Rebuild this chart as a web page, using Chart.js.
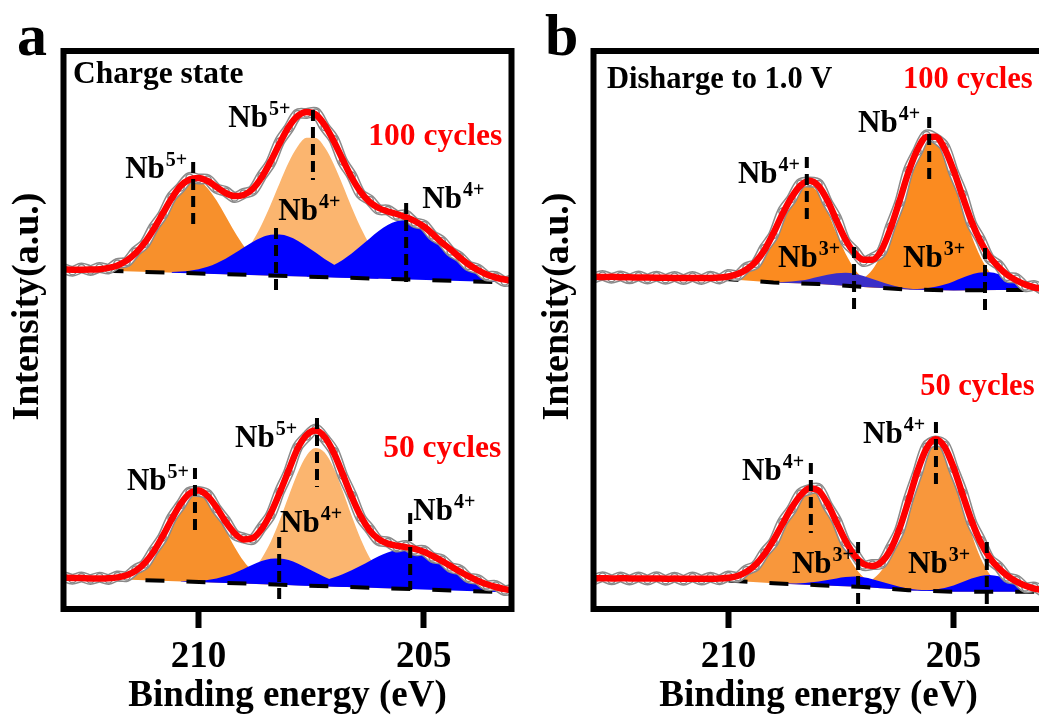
<!DOCTYPE html>
<html>
<head>
<meta charset="utf-8">
<script src="https://cdn.jsdelivr.net/npm/chart.js@4/dist/chart.umd.min.js"></script>
<style>
  html, body { margin: 0; padding: 0; background: #fff; overflow: hidden; }
  #wrap { position: relative; width: 1039px; height: 720px; overflow: hidden; background: #fff; }
  canvas { position: absolute; top: 0; }
  #panelA { left: 0; }
  #panelB { left: 530px; }
</style>
</head>
<body>
<div id="wrap">
  <canvas id="panelA" width="518" height="720"></canvas>
  <canvas id="panelB" width="520" height="720"></canvas>
</div>
<script>
// Nb 3d XPS spectra: binding-energy grid (eV), high to low
const energy = [213.0, 212.8, 212.6, 212.4, 212.2, 212.0, 211.8, 211.6, 211.4, 211.2,
                211.0, 210.8, 210.6, 210.4, 210.2, 210.0, 209.8, 209.6, 209.4, 209.2,
                209.0, 208.8, 208.6, 208.4, 208.2, 208.0, 207.8, 207.6, 207.4, 207.2,
                207.0, 206.8, 206.6, 206.4, 206.2, 206.0, 205.8, 205.6, 205.4, 205.2,
                205.0, 204.8, 204.6, 204.4, 204.2, 204.0, 203.8, 203.6, 203.4, 203.2, 203.0];
const xTicks = [210, 205];

// ---- (a) charge state, 100 cycles (intensity, arbitrary offset units) ----
const a100Raw = [340.5, 337.8, 341.0, 338.6, 341.5, 340.0, 345.5, 347.0, 357.5, 365.0,
                 381.5, 394.0, 412.0, 421.5, 431.5, 430.0, 429.5, 420.5, 417.5, 411.5,
                 415.5, 418.5, 433.0, 446.0, 467.5, 480.5, 495.0, 495.5, 496.5, 482.0,
                 470.0, 447.5, 433.5, 415.0, 409.0, 399.5, 399.0, 393.5, 394.0, 386.5,
                 384.0, 373.5, 368.0, 357.5, 352.0, 343.0, 340.0, 333.0, 332.5, 327.5, 330.0];
const a100Fit = [339.5, 339.3, 339.3, 339.4, 339.8, 341.1, 343.6, 348.4, 355.7, 366.1,
                 379.6, 395.1, 410.4, 422.9, 429.5, 431.0, 428.0, 422.0, 416.0, 413.0,
                 414.0, 420.0, 431.5, 447.5, 465.5, 482.0, 493.0, 497.0, 494.5, 484.0,
                 468.0, 449.5, 431.5, 417.0, 407.0, 401.0, 397.5, 395.0, 392.0, 388.0,
                 382.5, 375.0, 366.5, 359.5, 351.5, 344.5, 339.0, 334.5, 331.5, 329.5, 328.0];
const a100Nb5High = [339.8, 341.1, 343.6, 348.4, 355.7, 366.1, 379.6, 394.8, 409.7, 421.6, 428.2,
                     428.0, 420.8, 408.4, 393.0, 377.2, 363.3, 352.3, 344.4, 339.2, 336.1, 334.3]; // from 212.2
const a100Nb5Low = [338.5, 341.5, 346.7, 355.3, 367.7, 384.2, 404.2, 425.8, 446.4, 462.5, 471.2,
                    471.0, 461.7, 445.0, 424.0, 401.8, 381.4, 364.3, 351.3, 342.3, 336.5, 332.9]; // from 209.6
const a100Nb4High = [337.1, 337.4, 338.3, 339.8, 342.2, 345.8, 350.3, 355.7, 361.6, 367.1, 371.5, 374.2,
                     374.5, 372.5, 368.3, 362.6, 356.4, 350.1, 344.6, 340.1, 336.6, 334.2, 332.4, 331.3]; // from 210.6
const a100Nb4Low = [335.4, 337.2, 339.9, 343.8, 349.1, 355.5, 362.9, 370.6, 377.9, 383.9, 387.7, 388.9,
                    387.2, 382.8, 376.4, 368.0, 359.0, 350.5, 343.0, 337.5, 333.3, 330.5, 328.6, 327.3]; // from 207.6
const a100BaseE = [213.0, 203.0];
const a100BaseV = [339.5, 326.4];

// ---- (a) charge state, 50 cycles ----
const a50Raw = [32.5, 29.8, 32.0, 29.5, 31.8, 29.6, 33.0, 32.5, 39.5, 44.5,
                58.5, 71.5, 91.0, 104.0, 117.0, 117.5, 114.5, 100.0, 88.5, 74.5,
                71.0, 69.5, 81.5, 94.0, 117.5, 137.0, 162.0, 172.5, 180.0, 170.5,
                158.0, 133.5, 114.0, 91.5, 80.0, 68.5, 67.0, 62.0, 63.5, 58.5,
                58.5, 51.5, 49.5, 41.5, 39.0, 31.0, 29.5, 23.5, 23.5, 18.5, 20.0];
const a50Fit = [31.3, 31.0, 30.9, 30.6, 30.6, 30.8, 31.6, 33.7, 38.1, 45.7,
                57.3, 72.5, 89.5, 105.0, 115.5, 118.5, 113.0, 101.5, 87.3, 75.8,
                69.6, 70.9, 79.9, 95.6, 116.2, 138.5, 160.5, 174.0, 178.5, 172.0,
                156.5, 135.0, 112.5, 92.9, 78.6, 69.9, 65.4, 63.3, 61.9, 60.1,
                57.2, 53.0, 48.2, 42.9, 37.5, 32.6, 28.3, 24.7, 22.0, 19.9, 18.4];
const a50Nb5High = [30.7, 31.6, 33.8, 38.2, 45.8, 57.3, 72.5, 89.4, 104.7, 114.8,
                    116.7, 109.9, 96.2, 79.0, 62.0, 47.9, 37.8, 31.2, 27.6, 25.5]; // from 212.0
const a50Nb5Low = [27.6, 29.1, 32.7, 39.3, 50.5, 66.9, 88.4, 112.7, 136.1, 153.5, 161.0,
                   156.5, 141.0, 118.3, 93.2, 70.0, 51.3, 38.0, 29.6, 24.7, 21.9]; // from 209.4
const a50Nb4High = [27.8, 27.9, 28.2, 29.0, 30.5, 32.9, 36.1, 40.1, 44.3, 47.9, 50.2,
                    50.6, 49.0, 45.6, 41.1, 36.4, 32.0, 28.4, 25.7, 23.8, 22.5, 21.7]; // from 210.4
const a50Nb4Low = [24.8, 25.1, 25.8, 27.0, 28.8, 31.4, 34.7, 38.7, 43.3, 48.1, 52.7, 56.5, 59.0,
                   60.1, 59.3, 56.0, 51.8, 46.8, 41.5, 36.2, 31.4, 27.3, 23.9, 21.3, 19.3, 17.9]; // from 208.0
const a50BaseE = [213.0, 203.0];
const a50BaseV = [31.5, 16.5];

// ---- (b) discharged to 1.0 V, 100 cycles ----
const b100Raw = [331.0, 333.5, 330.8, 333.0, 330.2, 333.0, 330.0, 332.8, 329.8, 332.5,
                 329.5, 332.5, 329.6, 332.8, 330.0, 334.5, 333.5, 341.5, 345.0, 361.0,
                 374.0, 397.5, 410.0, 425.5, 427.0, 425.0, 406.5, 391.0, 367.5, 358.0,
                 347.5, 351.0, 357.0, 382.5, 406.0, 439.0, 457.5, 474.0, 470.5, 462.5,
                 437.0, 415.0, 385.5, 369.5, 350.5, 344.0, 332.0, 330.5, 322.5, 323.5, 318.5];
const b100Fit = [332.3, 332.0, 332.2, 331.8, 331.7, 331.5, 331.4, 331.3, 331.2, 331.1,
                 331.0, 331.0, 331.0, 331.1, 331.5, 332.5, 335.0, 339.5, 347.0, 359.0,
                 376.0, 395.0, 411.5, 423.5, 428.3, 423.0, 408.5, 388.5, 369.5, 356.0,
                 349.3, 349.3, 359.0, 380.5, 408.0, 437.0, 459.5, 472.0, 472.3, 460.5,
                 438.8, 412.8, 387.5, 367.5, 352.5, 342.0, 334.0, 328.5, 324.4, 321.5, 320.0];
const b100Nb4High = [331.7, 332.7, 335.3, 340.3, 348.6, 360.8, 376.3, 393.6, 409.3, 420.1,
                     423.3, 415.5, 397.6, 375.7, 355.5, 340.1, 330.4, 325.0, 322.3]; // from 210.2
const b100Nb4Low = [324.8, 326.6, 330.9, 339.6, 355.0, 377.5, 406.0, 434.5, 457.8, 469.2,
                    469.0, 454.4, 429.4, 400.6, 373.5, 351.9, 337.0, 327.9, 323.0, 320.6]; // from 207.4
const b100Nb3High = [326.8, 326.9, 327.4, 328.4, 330.1, 332.2, 334.2, 335.7, 336.2,
                     335.2, 333.0, 330.0, 327.0, 324.2, 322.1, 320.5, 319.8]; // from 209.0
const b100Nb3Low = [319.8, 320.1, 320.8, 322.3, 324.5, 327.6, 331.3, 334.6,
                    336.6, 336.7, 334.9, 331.7, 328.1, 324.8, 322.4, 320.7]; // from 206.0
const b100BaseE = [210.2, 209.0, 208.0, 207.0, 206.0, 205.0, 204.0, 203.0];
const b100BaseV = [330.5, 326.5, 325.0, 322.0, 319.5, 318.5, 319.0, 319.0];

// ---- (b) discharged to 1.0 V, 50 cycles ----
const b50Raw = [29.0, 32.3, 29.2, 32.0, 29.0, 32.0, 29.0, 32.2, 28.8, 31.8,
                28.8, 32.0, 29.0, 31.8, 29.2, 33.0, 31.8, 39.0, 43.0, 56.5,
                67.0, 87.0, 99.5, 115.5, 119.5, 120.5, 103.5, 88.5, 66.5, 55.5,
                43.5, 44.5, 45.5, 61.0, 78.5, 110.0, 136.0, 162.5, 168.0, 164.0,
                140.0, 116.5, 87.0, 69.0, 50.0, 42.5, 31.5, 29.0, 21.5, 22.0, 17.0];
const b50Fit = [30.6, 30.8, 30.5, 30.7, 30.6, 30.5, 30.4, 30.5, 30.3, 30.4,
                30.3, 30.2, 30.3, 30.3, 30.5, 31.2, 33.0, 37.2, 44.2, 54.8,
                68.8, 85.0, 100.9, 113.6, 120.8, 118.5, 105.3, 86.7, 68.2, 53.6,
                45.0, 43.0, 47.0, 59.1, 80.3, 108.4, 137.9, 160.6, 169.8, 162.3,
                141.7, 114.8, 88.5, 67.0, 51.7, 40.9, 33.1, 27.3, 23.2, 20.3, 18.7];
const b50Nb4High = [30.1, 30.8, 32.9, 37.1, 44.2, 54.8, 68.7, 84.8, 100.4, 112.5,
                    117.9, 114.2, 99.6, 79.0, 58.5, 42.4, 31.7, 25.5, 22.2]; // from 210.2
const b50Nb4Low = [23.6, 25.3, 29.6, 38.4, 54.0, 77.4, 106.7, 136.8, 159.5, 167.9,
                   158.9, 135.6, 105.2, 75.3, 51.2, 35.0, 25.5, 20.6, 18.5]; // from 207.2
const b50Nb3High = [25.5, 25.4, 25.7, 26.4, 27.5, 29.0, 30.6, 31.9, 32.4,
                    31.7, 29.8, 27.3, 24.7, 22.3, 20.4, 19.3, 18.6]; // from 208.8
const b50Nb3Low = [18.9, 18.8, 18.9, 19.6, 21.0, 23.4, 26.9, 30.5,
                   33.1, 34.0, 32.7, 29.8, 26.1, 22.8, 20.3, 18.7]; // from 206.0
const b50BaseE = [210.0, 209.0, 208.0, 207.0, 206.0, 205.0, 204.0, 203.0];
const b50BaseV = [28.5, 25.7, 23.8, 22.0, 18.8, 17.3, 17.3, 17.3];

// ---- styling ----
const SERIF = '"Liberation Serif", "Times New Roman", Times, serif';
const RED = '#ff0000';
const GRAY = '#8a8a8a';
const BLUE = '#0000ff';

// place a partial component series on the energy grid
function onGrid(startE, values) {
  const start = energy.findIndex(e => Math.abs(e - startE) < 1e-6);
  return energy.map((e, i) => {
    const v = values[i - start];
    return { x: e, y: (i >= start && v !== undefined) ? v : null };
  });
}
const gridPts = vals => energy.map((e, i) => ({ x: e, y: vals[i] }));
const pairPts = (es, vs) => es.map((e, i) => ({ x: e, y: vs[i] }));

function addSpectrum(list, s) {
  const baseIdx = list.length;
  list.push({
    label: s.name + ' background', data: pairPts(s.baseE, s.baseV),
    borderColor: '#000', borderWidth: 4, borderDash: [19, 22], pointRadius: 0,
    fill: false, tension: 0, order: 4
  });
  s.comps.forEach(c => list.push({
    label: s.name + ' ' + c.name, data: onGrid(c.start, c.values),
    borderWidth: 0, borderColor: 'rgba(0,0,0,0)', backgroundColor: c.color,
    pointRadius: 0, fill: baseIdx, cubicInterpolationMode: 'monotone', order: c.order
  }));
  // measured points: a grey-rimmed trace of open circles
  list.push({
    label: s.name + ' measured rim', data: gridPts(s.raw),
    borderColor: GRAY, borderWidth: 11, tension: 0.3, borderJoinStyle: 'round',
    borderCapStyle: 'round', pointRadius: 0, fill: false, order: 3
  });
  list.push({
    label: s.name + ' measured', data: gridPts(s.raw),
    borderColor: '#fff', borderWidth: 8, tension: 0.3, borderJoinStyle: 'round',
    pointRadius: 3.6, pointBorderWidth: 1.5, pointBorderColor: GRAY,
    pointBackgroundColor: 'rgba(255,255,255,0)', fill: false, order: 2
  });
  list.push({
    label: s.name + ' fit', data: gridPts(s.fit),
    borderColor: RED, borderWidth: 6.5, pointRadius: 0,
    cubicInterpolationMode: 'monotone', fill: false, order: 1
  });
}

// panel decorations: frame, peak markers, species labels, notes, letter, y title
const decor = {
  id: 'decor',
  afterDatasetsDraw(chart, args, o) {
    const { ctx, scales: { x, y } } = chart;
    ctx.save();
    ctx.strokeStyle = '#000';
    ctx.lineWidth = 4;
    ctx.setLineDash([11, 6]);
    o.markers.forEach(m => {
      const px = x.getPixelForValue(m.e);
      ctx.beginPath();
      ctx.moveTo(px, y.getPixelForValue(m.top));
      ctx.lineTo(px, y.getPixelForValue(m.bottom));
      ctx.stroke();
    });
    ctx.setLineDash([]);
    ctx.textAlign = 'left';
    ctx.textBaseline = 'alphabetic';
    ctx.fillStyle = '#000';
    o.labels.forEach(l => {
      const px = x.getPixelForValue(l.e), py = y.getPixelForValue(l.v);
      ctx.font = 'bold 31px ' + SERIF;
      ctx.fillText('Nb', px, py);
      const w = ctx.measureText('Nb').width;
      ctx.font = 'bold 20px ' + SERIF;
      ctx.fillText(l.sup, px + w + 1, py - 12);
    });
    o.notes.forEach(n => {
      ctx.font = 'bold ' + o.noteSize + 'px ' + SERIF;
      ctx.fillStyle = n.color;
      ctx.fillText(n.text, x.getPixelForValue(n.e), y.getPixelForValue(n.v));
    });
    ctx.restore();
  },
  afterDraw(chart, args, o) {
    const { ctx, chartArea: a } = chart;
    ctx.save();
    ctx.strokeStyle = '#000';
    ctx.lineWidth = 6;
    ctx.strokeRect(a.left, a.top, a.right - a.left, a.bottom - a.top);
    ctx.fillStyle = '#000';
    ctx.textBaseline = 'alphabetic';
    ctx.textAlign = 'left';
    ctx.font = 'bold 60px ' + SERIF;
    ctx.fillText(o.letter, o.letterX, 55);
    ctx.translate(38, 306.5);
    ctx.rotate(-Math.PI / 2);
    ctx.textAlign = 'center';
    ctx.font = 'bold 38px ' + SERIF;
    ctx.fillText('Intensity(a.u.)', 0, 0);
    ctx.restore();
  }
};

function makePanel(canvasId, xMin, datasets, deco) {
  return new Chart(document.getElementById(canvasId), {
    type: 'line',
    data: { datasets },
    options: {
      responsive: false,
      animation: false,
      devicePixelRatio: 1,
      spanGaps: false,
      layout: { padding: { left: 63.5, right: 6.5, top: 51, bottom: 0 } },
      plugins: { legend: { display: false }, tooltip: { enabled: false }, decor: deco },
      scales: {
        x: {
          type: 'linear', reverse: true, min: xMin, max: 213,
          afterBuildTicks: s => { s.ticks = xTicks.map(v => ({ value: v })); },
          afterFit: s => { s.height = 111; },
          border: { display: false },
          grid: { display: true, drawOnChartArea: false, drawTicks: true,
                  tickLength: 19, tickWidth: 6, tickColor: '#000' },
          ticks: { font: { family: SERIF, size: 37, weight: 'bold' }, color: '#000',
                   padding: 7, maxRotation: 0, autoSkip: false },
          title: { display: true, text: 'Binding energy (eV)', color: '#000',
                   font: { family: SERIF, size: 37, weight: 'bold' },
                   padding: { top: 0, bottom: 1 } }
        },
        y: { display: false, min: 0, max: 558 }
      }
    },
    plugins: [decor]
  });
}

// ---- panel (a) ----
const dsA = [];
addSpectrum(dsA, { name: '100 cycles', raw: a100Raw, fit: a100Fit, baseE: a100BaseE, baseV: a100BaseV,
  comps: [
    { name: 'Nb5+ 3d5/2', start: 209.6, values: a100Nb5Low, color: '#fbb56f', order: 8 },
    { name: 'Nb5+ 3d3/2', start: 212.2, values: a100Nb5High, color: '#f7902c', order: 7 },
    { name: 'Nb4+ 3d3/2', start: 210.6, values: a100Nb4High, color: BLUE, order: 6 },
    { name: 'Nb4+ 3d5/2', start: 207.6, values: a100Nb4Low, color: BLUE, order: 6 }
  ] });
addSpectrum(dsA, { name: '50 cycles', raw: a50Raw, fit: a50Fit, baseE: a50BaseE, baseV: a50BaseV,
  comps: [
    { name: 'Nb5+ 3d5/2', start: 209.4, values: a50Nb5Low, color: '#fbb56f', order: 8 },
    { name: 'Nb5+ 3d3/2', start: 212.0, values: a50Nb5High, color: '#f7902c', order: 7 },
    { name: 'Nb4+ 3d3/2', start: 210.4, values: a50Nb4High, color: BLUE, order: 6 },
    { name: 'Nb4+ 3d5/2', start: 208.0, values: a50Nb4Low, color: BLUE, order: 6 }
  ] });

makePanel('panelA', 203.05, dsA, {
  letter: 'a', letterX: 17, noteSize: 31.5,
  markers: [
    { e: 210.12, top: 447, bottom: 384 }, { e: 207.46, top: 499, bottom: 429 },
    { e: 208.28, top: 381, bottom: 319 }, { e: 205.39, top: 406, bottom: 326 },
    { e: 210.08, top: 141, bottom: 76 },  { e: 207.37, top: 191, bottom: 122 },
    { e: 208.21, top: 72, bottom: 9 },    { e: 205.30, top: 96, bottom: 19 }
  ],
  labels: [
    { e: 211.63, v: 431, sup: '5+' }, { e: 209.34, v: 482, sup: '5+' },
    { e: 208.23, v: 389, sup: '4+' }, { e: 205.03, v: 401, sup: '4+' },
    { e: 211.59, v: 119, sup: '5+' }, { e: 209.19, v: 162, sup: '5+' },
    { e: 208.19, v: 77, sup: '4+' },  { e: 205.23, v: 89, sup: '4+' }
  ],
  notes: [
    { text: 'Charge state', e: 212.79, v: 526, color: '#000' },
    { text: '100 cycles', e: 206.23, v: 464, color: RED },
    { text: '50 cycles', e: 205.90, v: 152, color: RED }
  ]
});

// ---- panel (b) ----
const dsB = [];
addSpectrum(dsB, { name: '100 cycles', raw: b100Raw, fit: b100Fit, baseE: b100BaseE, baseV: b100BaseV,
  comps: [
    { name: 'Nb4+ 3d3/2', start: 210.2, values: b100Nb4High, color: '#fb8b20', order: 8 },
    { name: 'Nb4+ 3d5/2', start: 207.4, values: b100Nb4Low, color: '#fb8b20', order: 8 },
    { name: 'Nb3+ 3d3/2', start: 209.0, values: b100Nb3High, color: '#3a2ec8', order: 6 },
    { name: 'Nb3+ 3d5/2', start: 206.0, values: b100Nb3Low, color: BLUE, order: 6 }
  ] });
addSpectrum(dsB, { name: '50 cycles', raw: b50Raw, fit: b50Fit, baseE: b50BaseE, baseV: b50BaseV,
  comps: [
    { name: 'Nb4+ 3d3/2', start: 210.2, values: b50Nb4High, color: '#f8973c', order: 8 },
    { name: 'Nb4+ 3d5/2', start: 207.2, values: b50Nb4Low, color: '#f8973c', order: 8 },
    { name: 'Nb3+ 3d3/2', start: 208.8, values: b50Nb3High, color: BLUE, order: 6 },
    { name: 'Nb3+ 3d5/2', start: 206.0, values: b50Nb3Low, color: BLUE, order: 6 }
  ] });

makePanel('panelB', 203.0, dsB, {
  letter: 'b', letterX: 15, noteSize: 30.5,
  markers: [
    { e: 208.26, top: 452, bottom: 389 }, { e: 205.54, top: 492, bottom: 424 },
    { e: 207.21, top: 362, bottom: 296 }, { e: 204.30, top: 361, bottom: 296 },
    { e: 208.17, top: 146, bottom: 76 },  { e: 205.39, top: 187, bottom: 121 },
    { e: 207.12, top: 67, bottom: 2 },    { e: 204.26, top: 67, bottom: 2 }
  ],
  labels: [
    { e: 209.79, v: 426, sup: '4+' }, { e: 207.12, v: 477, sup: '4+' },
    { e: 208.90, v: 342, sup: '3+' }, { e: 206.12, v: 342, sup: '3+' },
    { e: 209.70, v: 129, sup: '4+' }, { e: 207.01, v: 166, sup: '4+' },
    { e: 208.59, v: 36, sup: '3+' },  { e: 206.01, v: 36, sup: '3+' }
  ],
  notes: [
    { text: 'Disharge to 1.0 V', e: 212.70, v: 521, color: '#000' },
    { text: '100 cycles', e: 206.12, v: 521, color: RED },
    { text: '50 cycles', e: 205.74, v: 214, color: RED }
  ]
});
</script>
</body>
</html>
